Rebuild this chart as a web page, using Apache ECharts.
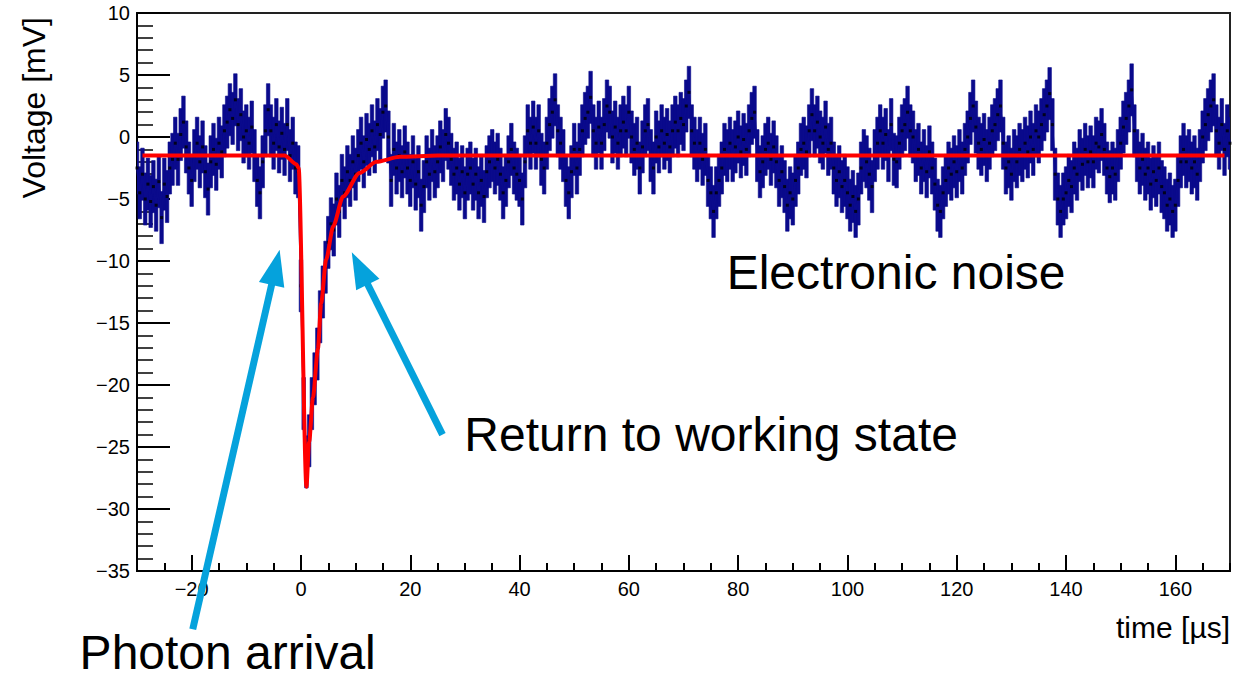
<!DOCTYPE html>
<html>
<head>
<meta charset="utf-8">
<script src="https://cdn.jsdelivr.net/npm/echarts@6/dist/echarts.min.js"></script>
<style>
html,body{margin:0;padding:0;background:#fff;}
#chart{width:1256px;height:678px;}
</style>
</head>
<body>
<div id="chart"></div>
<script>
// ---- data ----
const sampleStart = -30;      // µs
const sampleStep = 0.5;       // µs
const voltage = [
 -2.5,-4.5,-3.0,-5.0,-3.8,-5.2,-4.0,-5.5,-3.6,-6.5,
 -3.8,-4.8,-2.5,-1.8,-0.5,-1.8,0.2,1.2,-0.8,-2.5,
 -3.5,-1.5,-0.5,-2.0,-0.8,-2.8,-4.2,-2.0,-1.0,-2.2,
 -0.5,-1.2,0.5,1.2,2.2,1.5,3.0,1.0,1.8,0.0,
 0.5,-0.5,0.8,-1.5,-3.5,-4.5,-2.0,0.5,2.2,0.5,
 -0.5,1.0,-0.8,0.3,-1.0,1.0,-1.5,-0.5,-2.5,-2.8,
 -12.0,-21.5,-26.2,-24.5,-21.5,-19.5,-17.5,-14.5,-12.5,-10.5,
 -8.5,-7.0,-7.5,-5.0,-6.0,-3.5,-4.5,-2.8,-3.5,-2.0,
 -3.0,-1.5,-0.5,-2.0,-0.2,-1.0,0.5,-0.8,1.0,0.2,
 2.0,2.5,0.0,-3.5,-1.0,-2.5,-1.5,-2.8,-1.2,-2.5,
 -3.5,-2.0,-3.8,-2.8,-5.5,-4.0,-2.0,-3.0,-1.5,-2.8,
 -2.0,-0.8,-1.5,0.2,-0.5,-1.8,-3.0,-2.5,-3.8,-2.8,
 -4.5,-3.0,-2.5,-3.8,-3.0,-4.5,-3.5,-4.8,-2.8,-2.0,
 -1.5,-2.5,-1.8,-3.0,-4.5,-3.5,-2.0,-1.0,-2.5,-3.0,
 -3.5,-5.0,-2.0,0.5,-0.5,0.8,-0.5,0.5,-1.8,-2.5,
 -0.5,1.0,2.0,3.0,0.5,-0.5,-1.5,-3.5,-4.5,-2.8,
 -1.0,-2.5,-1.0,0.5,1.5,2.0,3.2,0.5,-0.5,0.8,
 -0.5,1.0,2.5,2.0,0.0,0.8,-0.5,0.5,1.2,0.5,
 2.0,0.0,-1.0,-0.5,-2.5,-0.8,0.5,1.0,-1.5,-2.5,
 0.0,-0.8,0.5,-0.5,0.2,-0.8,0.5,1.2,0.5,1.5,
 1.0,2.5,3.6,0.5,-0.5,-1.5,-0.5,-1.8,-1.0,-3.5,
 -4.5,-6.0,-4.5,-3.5,-2.5,-1.0,-1.5,-0.5,-1.5,-0.8,
 0.0,-1.2,-0.2,-1.0,0.5,1.5,2.0,-1.5,-2.8,-2.0,
 -1.0,-0.5,-1.8,-0.8,-2.0,-3.5,-2.8,-4.0,-5.5,-4.5,
 -5.0,-3.5,-2.5,-1.0,-0.5,-1.2,0.5,1.8,0.5,1.2,
 0.0,-0.5,0.8,-1.0,-0.5,-2.5,-3.5,-2.8,-4.0,-3.5,
 -4.5,-5.5,-4.8,-6.0,-5.0,-2.5,-1.5,-2.0,-3.0,-4.0,
 -1.5,-0.5,0.5,-0.5,0.2,-1.5,1.0,-1.8,-2.0,-0.5,
 0.5,1.0,2.0,0.5,0.0,-1.5,-1.0,-2.5,-1.5,-2.8,
 -1.2,-2.5,-3.8,-5.5,-6.0,-4.5,-3.5,-2.5,-3.0,-2.0,
 -2.8,-1.5,-2.5,-1.0,0.0,1.5,2.5,0.8,-0.5,-1.0,
 -0.2,-1.5,-0.5,0.5,1.0,1.8,2.5,-0.5,-2.5,-2.0,
 -3.0,-1.5,-2.0,-1.0,-1.5,-0.5,-1.2,0.0,-1.0,0.5,
 0.0,1.0,1.8,2.5,3.5,1.0,-3.0,-5.0,-6.0,-5.0,
 -4.5,-3.5,-4.0,-2.5,-3.0,-1.5,-2.2,-1.0,-2.0,-1.2,
 -2.0,-0.5,-0.8,0.2,-1.0,-2.5,-3.2,-2.5,-3.0,-1.5,
 -0.5,0.8,1.5,2.5,3.8,0.5,-1.5,-2.5,-1.8,-3.0,
 -2.5,-3.8,-2.8,-3.5,-2.5,-4.0,-4.5,-5.5,-5.0,-6.0,
 -5.5,-3.5,-2.0,-1.0,-2.0,-1.5,-2.5,-2.0,-3.0,-1.5,
 0.0,1.0,1.8,2.5,3.0,0.5,-0.5,1.0,-1.0,0.5,
 -0.5
];
const errorHalf = 2.1;        // mV, half height of the blue error bars

const fitTime    = [-29, -3.0, -0.85, -0.42, 1.0, 1.5, 2.2, 3.1, 3.7, 4.6, 5.9, 7.7, 10.7, 13.8, 18.1, 25, 169];
const fitVoltage = [-1.5, -1.5, -2.2, -2.5, -28.2, -24.6, -21.0, -17.1, -13.4, -9.9, -7.2, -4.8, -2.9, -2.0, -1.6, -1.5, -1.5];

const xMajorTicks = [-20, 0, 20, 40, 60, 80, 100, 120, 140, 160];
const xMinorTicks = [-30,-25,-15,-10,-5,5,10,15,25,30,35,45,50,55,65,70,75,85,90,95,105,110,115,125,130,135,145,150,155,165,170];

const annotations = [
  {text: 'Electronic noise', t: 77.9, v: -10.9},
  {text: 'Return to working state', t: 29.9, v: -24.0},
  {text: 'Photon arrival', t: -40.5, v: -41.6}
];
const arrows = [
  {from: [-19.8, -39.7], to: [-3.9, -9.1]},
  {from: [25.9, -24.0], to: [9.3, -9.3]}
];

// ---- build ----
const points = voltage.map((v, i) => [sampleStart + i * sampleStep, v]);
const fitPoints = fitTime.map((t, i) => [t, fitVoltage[i]]);
const minus = s => String(s).replace('-', '\u2212');
const FONT = 'Liberation Sans, Arial, Helvetica, sans-serif';
const BLUE = '#0a0a8c';

const chart = echarts.init(document.getElementById('chart'), null, {renderer: 'svg'});
chart.setOption({
  animation: false,
  backgroundColor: '#fff',
  grid: {left: 137, right: 26, top: 13, bottom: 107, show: true, borderColor: '#222', borderWidth: 2, backgroundColor: 'transparent'},
  xAxis: [{
    type: 'value', min: -30, max: 170,
    axisLine: {onZero: false, lineStyle: {color: '#000', width: 2}},
    axisTick: {inside: true, length: 16, customValues: xMajorTicks, lineStyle: {color: '#000', width: 2}},
    axisLabel: {customValues: xMajorTicks, fontSize: 20, color: '#000', fontFamily: FONT, margin: 8, formatter: minus},
    splitLine: {show: false}
  }, {
    type: 'value', min: -30, max: 170, position: 'bottom',
    axisLine: {show: false, onZero: false},
    axisTick: {inside: true, length: 8, customValues: xMinorTicks, lineStyle: {color: '#000', width: 2}},
    axisLabel: {show: false},
    splitLine: {show: false}
  }],
  yAxis: {
    type: 'value', min: -35, max: 10, interval: 5,
    axisLine: {onZero: false, lineStyle: {color: '#000', width: 2}},
    axisTick: {inside: true, length: 33, lineStyle: {color: '#000', width: 2}},
    minorTick: {show: true, splitNumber: 5, length: 16, lineStyle: {color: '#000', width: 1.5}},
    axisLabel: {fontSize: 20, color: '#000', fontFamily: FONT, margin: 7, formatter: minus},
    splitLine: {show: false}
  },
  series: [{
    type: 'custom', clip: true,
    data: points,
    renderItem: function (params, api) {
      const t = api.value(0), v = api.value(1);
      const a = api.coord([t - sampleStep / 2, v + errorHalf]);
      const b = api.coord([t + sampleStep / 2, v - errorHalf]);
      return {type: 'rect', shape: {x: a[0] - 0.4, y: a[1], width: b[0] - a[0] + 0.8, height: b[1] - a[1]},
        style: {fill: BLUE, stroke: BLUE, lineWidth: 0.6}};
    },
    z: 2
  }, {
    type: 'line', data: points, showSymbol: false, clip: true,
    lineStyle: {color: BLUE, width: 2}, z: 3
  }, {
    type: 'scatter', data: points, symbol: 'rect', symbolSize: 3, clip: true,
    itemStyle: {color: '#000'}, z: 4
  }, {
    type: 'line', data: fitPoints, showSymbol: false, smooth: 0.25, smoothMonotone: 'x',
    lineStyle: {color: '#ff0000', width: 4}, z: 5
  }]
});

function px(p) { return chart.convertToPixel({xAxisIndex: 0, yAxisIndex: 0}, p); }
const graphics = [];
graphics.push({type: 'text', x: 34, y: 17, rotation: Math.PI / 2,
  style: {text: 'Voltage [mV]', font: '32px ' + FONT, fill: '#000', textAlign: 'right', textVerticalAlign: 'middle'}});
graphics.push({type: 'text', x: 1230, y: 627,
  style: {text: 'time [\u00b5s]', font: '30px ' + FONT, fill: '#000', textAlign: 'right', textVerticalAlign: 'middle'}});
annotations.forEach(a => {
  const p = px([a.t, a.v]);
  graphics.push({type: 'text', x: p[0], y: p[1], z: 10,
    style: {text: a.text, font: '48px ' + FONT, fill: '#000', textAlign: 'left', textVerticalAlign: 'middle'}});
});
arrows.forEach(ar => {
  const P = px(ar.from), Q = px(ar.to);
  const dx = Q[0] - P[0], dy = Q[1] - P[1], L = Math.hypot(dx, dy);
  const ux = dx / L, uy = dy / L, nx = -uy, ny = ux;
  const headLen = 36, headHalf = 13;
  const bx = Q[0] - ux * headLen, by = Q[1] - uy * headLen;
  graphics.push({type: 'line', z: 9, shape: {x1: P[0], y1: P[1], x2: bx + ux * 4, y2: by + uy * 4},
    style: {stroke: '#05a2dc', lineWidth: 7}});
  graphics.push({type: 'polygon', z: 9, shape: {points: [[Q[0], Q[1]], [bx + nx * headHalf, by + ny * headHalf], [bx - nx * headHalf, by - ny * headHalf]]},
    style: {fill: '#05a2dc'}});
});
chart.setOption({graphic: graphics});
</script>
</body>
</html>
